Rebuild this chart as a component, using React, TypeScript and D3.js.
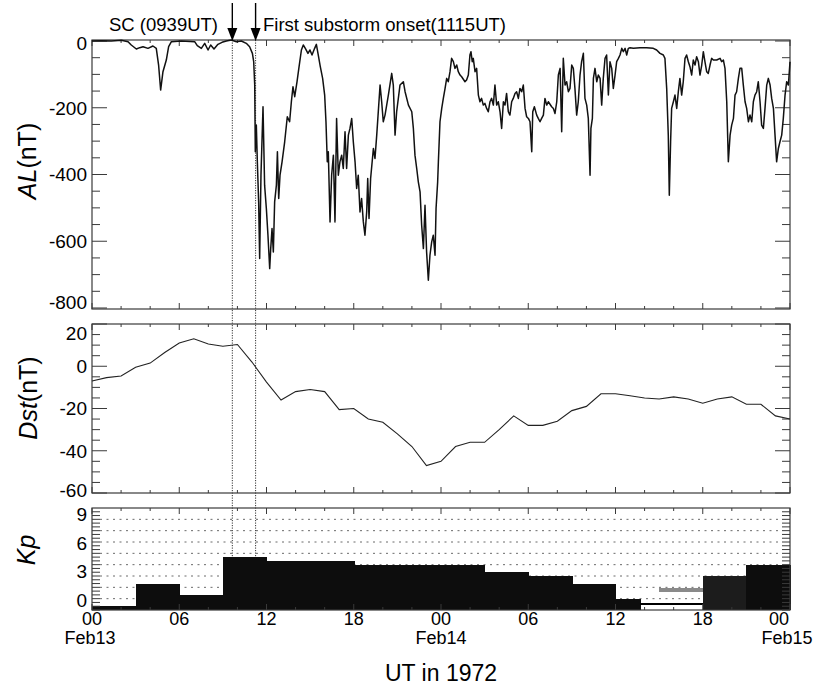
import React, { useEffect, useRef } from 'react';
import * as d3 from 'd3';

// hours since 00 UT Feb 13, 1972
const xTickHours = [0, 6, 12, 18, 24, 30, 36, 42, 48];
const xTickLabels = ['00', '06', '12', '18', '00', '06', '12', '18', '00'];
const dateTickHours = [0, 24, 48];
const dateLabels = ['Feb13', 'Feb14', 'Feb15'];

const scHour = 9 + 39 / 60;
const onsetHour = 11 + 15 / 60;

// AL index [hour, nT]
const alSeries: [number, number][] = [
  [0, 0], [0.64, 1], [1.33, 0], [2.02, 2], [2.48, -2], [2.7, -12], [3.05, -24], [3.28, -20], [3.51, -17], [3.85, -22],
  [4.19, -15], [4.42, -22], [4.58, -72], [4.72, -147], [4.88, -92], [5.11, -57], [5.27, -17], [5.46, -2], [6.14, 0], [7.06, -2],
  [7.24, -14], [7.52, -22], [7.75, -7], [7.98, -27], [8.16, -12], [8.39, -24], [8.66, -10], [8.94, -4], [9.24, 0], [9.58, 3],
  [9.93, -2], [10.27, 0], [10.61, -7], [10.84, -17], [11.03, -37], [11.12, -62], [11.19, -132], [11.23, -332], [11.3, -252], [11.37, -362],
  [11.46, -482], [11.53, -652], [11.62, -402], [11.76, -197], [11.87, -432], [11.99, -502], [12.1, -582], [12.22, -682], [12.29, -622], [12.38, -562],
  [12.47, -632], [12.56, -482], [12.68, -432], [12.75, -332], [12.84, -472], [12.93, -402], [13.07, -362], [13.25, -302], [13.43, -227], [13.59, -242],
  [13.71, -182], [13.82, -137], [13.94, -167], [14.1, -122], [14.24, -77], [14.4, -27], [14.53, -12], [14.67, -22], [14.85, -37], [14.99, -27],
  [15.13, -42], [15.31, -22], [15.43, -10], [15.54, -37], [15.7, -77], [15.86, -112], [16.0, -162], [16.09, -242], [16.18, -362],
  [16.25, -332], [16.37, -542], [16.48, -402], [16.6, -342], [16.71, -542], [16.82, -232], [16.94, -402], [17.05, -362], [17.17, -342], [17.28, -382],
  [17.4, -272], [17.51, -382], [17.63, -282], [17.74, -262], [17.86, -232], [17.97, -302], [18.09, -362], [18.2, -442], [18.31, -402], [18.43, -512],
  [18.54, -472], [18.66, -542], [18.77, -582], [18.89, -512], [18.96, -412], [19.05, -532], [19.16, -412], [19.35, -322], [19.46, -352], [19.58, -282],
  [19.81, -132], [19.92, -182], [20.03, -242], [20.15, -222], [20.38, -162], [20.61, -97], [20.72, -132], [20.84, -282], [20.95, -212], [21.18, -132],
  [21.41, -122], [21.53, -152], [21.76, -192], [21.99, -212], [22.1, -262], [22.21, -342], [22.33, -382], [22.44, -422], [22.56, -452], [22.67, -552],
  [22.79, -622], [22.9, -492], [23.01, -632], [23.13, -717], [23.24, -642], [23.36, -602], [23.47, -582], [23.59, -642], [23.66, -502], [23.77, -422],
  [23.82, -362], [23.93, -242], [24.05, -202], [24.16, -172], [24.28, -142], [24.39, -112], [24.5, -122], [24.62, -92], [24.73, -52], [24.85, -62],
  [24.96, -82], [25.08, -72], [25.19, -92], [25.31, -102], [25.42, -107], [25.65, -122], [25.76, -117], [25.88, -102], [25.99, -42], [26.06, -32],
  [26.15, -62], [26.22, -52], [26.34, -92], [26.45, -82], [26.57, -162], [26.68, -182], [26.79, -172], [26.91, -192], [27.02, -187], [27.14, -202],
  [27.25, -212], [27.37, -182], [27.48, -172], [27.6, -192], [27.71, -132], [27.83, -192], [27.94, -182], [28.06, -212], [28.17, -262], [28.29, -182],
  [28.4, -192], [28.51, -157], [28.63, -212], [28.74, -222], [28.86, -182], [28.97, -172], [29.09, -157], [29.2, -152], [29.32, -172], [29.43, -142],
  [29.55, -152], [29.66, -132], [29.78, -202], [29.89, -227], [30.01, -232], [30.12, -242], [30.24, -332], [30.31, -212], [30.42, -197], [30.58, -222],
  [30.69, -232], [30.81, -242], [30.92, -232], [31.04, -222], [31.15, -172], [31.27, -192], [31.38, -182], [31.61, -197], [31.73, -202], [31.84, -217],
  [31.96, -182], [32.07, -102], [32.19, -82], [32.3, -272], [32.41, -52],
  [32.53, -132], [32.64, -122], [32.76, -152], [32.87, -142], [32.99, -72], [33.1, -82], [33.21, -142], [33.33, -222], [33.44, -182], [33.56, -102],
  [33.67, -62], [33.79, -37], [33.9, -172], [34.02, -192], [34.13, -232], [34.25, -402], [34.31, -262], [34.41, -232], [34.48, -112], [34.59, -82],
  [34.71, -122], [34.82, -102], [34.94, -112], [35.05, -192], [35.16, -112], [35.28, -52], [35.39, -42], [35.51, -162], [35.62, -62], [35.74, -82],
  [35.85, -142], [35.97, -102], [36.08, -62], [36.2, -52], [36.31, -42], [36.43, -22], [36.54, -32], [36.66, -22], [36.77, -42], [36.88, -22],
  [37.0, -20], [37.23, -22], [37.68, -20], [38.14, -20], [38.6, -22], [38.83, -27], [39.06, -37], [39.29, -42], [39.4, -52], [39.52, -142],
  [39.63, -282], [39.7, -462], [39.79, -302], [39.86, -202], [39.98, -182], [40.09, -162], [40.21, -202], [40.32, -152], [40.43, -112], [40.55, -162],
  [40.66, -122], [40.78, -52], [40.89, -42], [41.01, -62], [41.12, -77], [41.24, -102], [41.35, -57], [41.47, -72], [41.58, -47], [41.7, -62],
  [41.81, -102], [41.93, -72], [42.04, -32], [42.15, -62], [42.27, -92], [42.38, -97], [42.5, -72], [42.61, -52], [42.73, -57], [42.96, -57],
  [43.19, -52], [43.3, -62], [43.42, -57], [43.53, -82], [43.65, -182], [43.76, -362], [43.88, -282], [43.99, -252], [44.11, -232], [44.22, -162],
  [44.33, -152], [44.45, -112], [44.56, -82], [44.68, -82], [44.79, -132], [44.91, -182], [45.02, -202], [45.14, -242], [45.25, -222], [45.37, -242],
  [45.48, -182], [45.59, -162], [45.71, -152], [45.82, -122], [45.94, -182], [46.05, -252], [46.17, -262], [46.28, -202], [46.4, -132], [46.51, -112],
  [46.63, -132], [46.74, -172], [46.86, -202], [46.97, -282], [47.08, -362], [47.2, -322], [47.31, -302], [47.43, -282], [47.54, -232], [47.66, -162],
  [47.77, -122], [47.89, -132], [48.0, -62],
];

// hourly Dst (nT)
const dstHours = [0, 1, 2, 3, 4, 5, 6, 7, 8, 9, 10, 11, 12, 13, 14, 15, 16, 17, 18, 19, 20, 21, 22, 23, 24,
  25, 26, 27, 28, 29, 30, 31, 32, 33, 34, 35, 36, 37, 38, 39, 40, 41, 42, 43, 44, 45, 46, 47, 48];
const dstValues = [-7, -5.4, -4.6, -0.5, 1.5, 6.5, 11, 13, 10.5, 9.5, 10.3, 2, -7.5, -16, -12, -11, -12, -20.5, -20, -25, -26.5, -32, -38, -47, -45,
  -38, -36, -36, -30, -23.5, -28, -28, -26, -21, -19, -13, -13, -14, -15, -15.5, -14.5, -15.5, -17.5, -15.5, -14.5, -18, -18, -23.5, -25];

// 3-hourly Kp
const kpStart = [0, 3, 6, 9, 12, 15, 18, 21, 24, 27, 30, 33, 36, 39, 42, 45];
const kpEnd = [3, 6, 9, 12, 15, 18, 21, 24, 27, 30, 33, 36, 37.7, 42, 45, 48];
const kpValues = [0.33, 2.33, 1.33, 4.67, 4.33, 4.33, 4.0, 4.0, 4.0, 3.33, 3.0, 2.33, 1.0, 1.9, 3.0, 4.0];
const kpHollow = [false, false, false, false, false, false, false, false, false, false, false, false, false, true, false, false];

const alTicks = [0, -200, -400, -600, -800];
const dstTicks = [20, 0, -20, -40, -60];
const kpTicks = [9, 6, 3, 0];

const FONT = '"Liberation Sans", Arial, Helvetica, sans-serif';

const App = () => {
  const ref = useRef<SVGSVGElement>(null);

  useEffect(() => {
    const svg = d3.select(ref.current);
    svg.selectAll('*').remove();

    const left = 92, right = 790;
    const alTop = 40, alBottom = 309;
    const dstTop = 324, dstBottom = 493;
    const kpTop = 508, kpBottom = 610;

    const x = d3.scaleLinear().domain([0, 48]).range([left, right]);
    const yAL = d3.scaleLinear().domain([-803, 3]).range([alBottom, alTop]);
    const yDst = d3.scaleLinear().domain([-60, 20]).range([dstBottom, dstTop]);
    const yKp = d3.scaleLinear().domain([0, 9]).range([kpBottom, kpTop]);
    // Kp numbers sit a little inside the frame in the original
    const yKpLabel = d3.scaleLinear().domain([0, 9]).range([600, 514]);

    const frameColor = '#3a3a3a';

    const yTicks = (scale: d3.ScaleLinear<number, number>, major: number[], minor: number[], majLen: number, minLen: number) => {
      const g = svg.append('g').attr('stroke', frameColor).attr('stroke-width', 1);
      minor.forEach(v => {
        g.append('line').attr('x1', left).attr('x2', left + minLen).attr('y1', scale(v)).attr('y2', scale(v));
        g.append('line').attr('x1', right).attr('x2', right - minLen).attr('y1', scale(v)).attr('y2', scale(v));
      });
      major.forEach(v => {
        g.append('line').attr('x1', left).attr('x2', left + majLen).attr('y1', scale(v)).attr('y2', scale(v));
        g.append('line').attr('x1', right).attr('x2', right - majLen).attr('y1', scale(v)).attr('y2', scale(v));
      });
    };

    const xTicks = (top: number, bottom: number) => {
      const g = svg.append('g').attr('stroke', frameColor).attr('stroke-width', 1);
      d3.range(0, 49, 2).forEach(h => {
        const len = h % 6 === 0 ? 6 : 3;
        g.append('line').attr('x1', x(h)).attr('x2', x(h)).attr('y1', bottom).attr('y2', bottom - len);
        g.append('line').attr('x1', x(h)).attr('x2', x(h)).attr('y1', top).attr('y2', top + len);
      });
    };

    const frame = (top: number, bottom: number) => {
      svg.append('rect')
        .attr('x', left).attr('y', top)
        .attr('width', right - left).attr('height', bottom - top)
        .attr('fill', 'none').attr('stroke', frameColor).attr('stroke-width', 1.2);
    };

    const yLabels = (vals: number[], pos: (v: number) => number) => {
      svg.append('g').selectAll('text').data(vals).enter().append('text')
        .attr('x', 87).attr('y', d => pos(d))
        .attr('dy', '0.36em')
        .attr('text-anchor', 'end')
        .style('font-family', FONT).style('font-size', '19px')
        .text(d => `${d}`);
    };

    // ---- Kp grid and vertical event lines (under the bars)
    const grid = svg.append('g');
    [1, 2, 3, 4, 5, 6, 7, 8].forEach(k => {
      grid.append('line')
        .attr('x1', left + 8).attr('x2', right - 8)
        .attr('y1', yKp(k)).attr('y2', yKp(k))
        .attr('stroke', '#6a6a6a').attr('stroke-width', 1)
        .attr('stroke-dasharray', '2 4.5');
    });

    [scHour, onsetHour].forEach(h => {
      svg.append('line')
        .attr('x1', x(h)).attr('x2', x(h))
        .attr('y1', alTop).attr('y2', kpBottom)
        .attr('stroke', '#333').attr('stroke-width', 1)
        .attr('stroke-dasharray', '1.2 1.3');
    });

    // ---- Kp bars
    const bars = svg.append('g').attr('shape-rendering', 'crispEdges');
    kpValues.forEach((v, i) => {
      const x0 = x(kpStart[i]), x1 = x(kpEnd[i]);
      if (kpHollow[i]) {
        bars.append('rect').attr('x', x0).attr('y', yKp(v)).attr('width', x1 - x0).attr('height', 3.5)
          .attr('fill', '#8a8a8a');
      } else {
        bars.append('rect').attr('x', x0).attr('y', yKp(v)).attr('width', x1 - x0 + 0.8).attr('height', yKp(0) - yKp(v))
          .attr('fill', i === 14 ? '#1c1c1c' : '#0d0d0d');
      }
    });
    bars.append('line')
      .attr('x1', x(kpEnd[12])).attr('x2', x(kpEnd[13]))
      .attr('y1', yKp(0.53)).attr('y2', yKp(0.53))
      .attr('stroke', '#000').attr('stroke-width', 2.5);

    // ---- ticks, frames
    yTicks(yAL, alTicks, d3.range(-750, 0, 50).filter(v => v % 200 !== 0), 15, 8);
    yTicks(yDst, dstTicks, d3.range(-55, 20, 5).filter(v => v % 20 !== 0), 15, 8);
    yTicks(yKp, [], d3.range(0, 27).map(i => i / 3), 8, 8);
    xTicks(alTop, alBottom);
    xTicks(dstTop, dstBottom);
    xTicks(kpTop, kpBottom);
    frame(alTop, alBottom);
    frame(dstTop, dstBottom);
    frame(kpTop, kpBottom);

    // ---- AL line
    const alLine = d3.line<[number, number]>()
      .x(d => x(d[0]))
      .y(d => yAL(d[1]));
    svg.append('path')
      .datum(alSeries)
      .attr('d', alLine)
      .attr('fill', 'none')
      .attr('stroke', '#111')
      .attr('stroke-width', 1.5)
      .attr('stroke-linejoin', 'round');

    // ---- Dst line
    const dstLine = d3.line<number>()
      .x((_, i) => x(dstHours[i]))
      .y(d => yDst(d));
    svg.append('path')
      .datum(dstValues)
      .attr('d', dstLine)
      .attr('fill', 'none')
      .attr('stroke', '#222')
      .attr('stroke-width', 1.1);

    // ---- y tick labels
    yLabels(alTicks, v => Math.max(alTop + 3, Math.min(yAL(v), alBottom - 7)));
    yLabels(dstTicks, v => Math.max(dstTop + 9, Math.min(yDst(v), dstBottom - 3)));
    yLabels(kpTicks, v => yKpLabel(v));

    // ---- x tick labels
    const xl = svg.append('g').style('font-family', FONT).style('font-size', '18px');
    xTickHours.forEach((h, i) => {
      xl.append('text')
        .attr('x', x(h) + (h === 48 ? -11 : 0)).attr('y', 625)
        .attr('text-anchor', 'middle')
        .text(xTickLabels[i]);
    });
    dateTickHours.forEach((h, i) => {
      xl.append('text')
        .attr('x', x(h) + (h === 0 ? -2 : h === 48 ? -3 : 0)).attr('y', 644)
        .attr('text-anchor', 'middle')
        .text(dateLabels[i]);
    });

    svg.append('text')
      .attr('x', x(24)).attr('y', 681)
      .attr('text-anchor', 'middle')
      .style('font-family', FONT).style('font-size', '23px')
      .text('UT in 1972');

    // ---- y axis titles
    const title = (cx: number, cy: number, italic: string, rest: string) => {
      const t = svg.append('text')
        .attr('transform', `translate(${cx},${cy}) rotate(-90)`)
        .attr('text-anchor', 'middle')
        .style('font-family', FONT).style('font-size', '25px');
      t.append('tspan').style('font-style', 'italic').text(italic);
      if (rest) t.append('tspan').text(rest);
    };
    title(36, 161, 'AL', '(nT)');
    title(37, 398, 'Dst', '(nT)');
    title(35, 550, 'Kp', '');

    // ---- annotations
    [scHour, onsetHour].forEach(h => {
      svg.append('line')
        .attr('x1', x(h)).attr('x2', x(h))
        .attr('y1', 3).attr('y2', 30)
        .attr('stroke', '#000').attr('stroke-width', 1.4);
      svg.append('path')
        .attr('d', `M${x(h) - 5},${28} L${x(h) + 5},${28} L${x(h)},${41} Z`)
        .attr('fill', '#000');
    });
    svg.append('text')
      .attr('x', 218).attr('y', 31)
      .attr('text-anchor', 'end')
      .style('font-family', FONT).style('font-size', '18.5px')
      .text('SC (0939UT)');
    svg.append('text')
      .attr('x', 263).attr('y', 31)
      .attr('text-anchor', 'start')
      .style('font-family', FONT).style('font-size', '18.5px')
      .text('First substorm onset(1115UT)');
  }, []);

  return (
    <svg
      ref={ref}
      width={818}
      height={687}
      style={{ position: 'absolute', left: 0, top: 0, background: '#ffffff' }}
    />
  );
};

export default App;
